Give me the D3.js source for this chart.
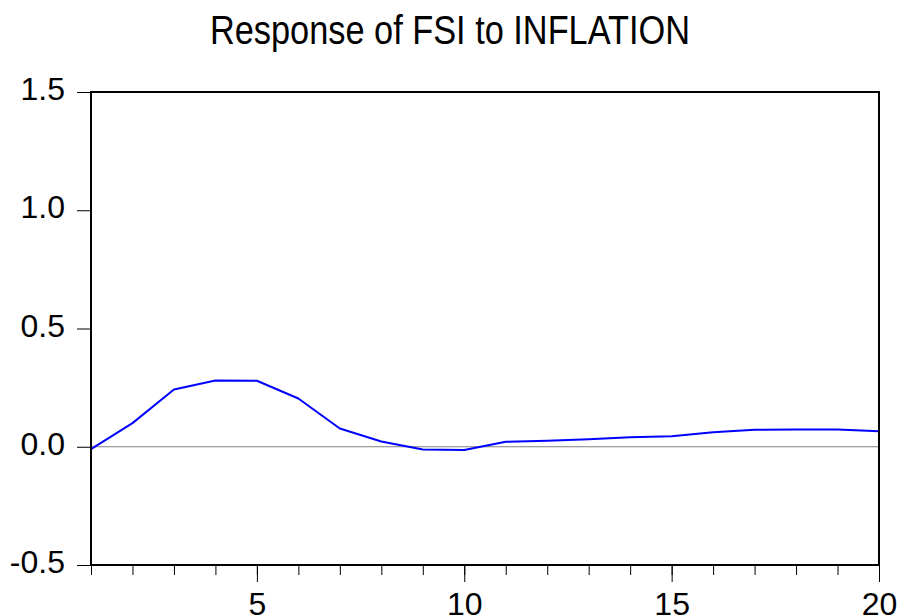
<!DOCTYPE html>
<html>
<head>
<meta charset="utf-8">
<script src="https://cdn.jsdelivr.net/npm/d3@7"></script>
<style>
  body { margin: 0; background: #fff; }
  svg { display: block; font-family: "Liberation Sans", Arial, sans-serif; }
</style>
</head>
<body>
<div id="chart"></div>
<script>
/* DATA */
const periods = d3.range(1, 21);
const responses = [-0.01, 0.10, 0.242, 0.280, 0.279, 0.204, 0.077, 0.022, -0.012, -0.014,
                   0.021, 0.025, 0.032, 0.040, 0.044, 0.061, 0.072, 0.073, 0.073, 0.066];
const yTicks = [-0.5, 0.0, 0.5, 1.0, 1.5];
const xMajorTicks = [5, 10, 15, 20];
const title = "Response of FSI to INFLATION";

/* LAYOUT */
const W = 899, H = 616;
const frame = { left: 91, right: 879, top: 92, bottom: 565 };
const labelSize = 32;

const svg = d3.select("#chart").append("svg").attr("width", W).attr("height", H);

const x = d3.scaleLinear().domain([1, 20]).range([frame.left, frame.right]);
const y = d3.scaleLinear().domain([-0.5, 1.5]).range([frame.bottom, frame.top]);

// title (narrow, tall glyphs like the original)
svg.append("text")
  .attr("x", 450)
  .attr("y", 44)
  .attr("text-anchor", "middle")
  .attr("font-size", 40)
  .attr("textLength", 480)
  .attr("lengthAdjust", "spacingAndGlyphs")
  .text(title);

// y axis (ticks outside on the left)
const yAxis = svg.append("g")
  .attr("transform", `translate(${frame.left - 1},0)`)
  .call(d3.axisLeft(y).tickValues(yTicks).tickSize(13).tickPadding(12));
yAxis.select(".domain").remove();
yAxis.selectAll("line").attr("stroke", "#000").attr("stroke-width", 1);
yAxis.selectAll("text")
  .attr("font-size", labelSize)
  .attr("fill", "#000")
  .attr("font-family", "Liberation Sans, Arial, sans-serif")
  .attr("dy", "0.24em")
  .text((d) => d.toFixed(1));

// x axis: minor ticks on every period, longer major ticks with labels
const xMinor = svg.append("g")
  .attr("transform", `translate(0,${frame.bottom + 1})`)
  .call(d3.axisBottom(x).tickValues(periods).tickSize(9).tickFormat(""));
xMinor.select(".domain").remove();
xMinor.selectAll("line").attr("stroke", "#000");

const xMajor = svg.append("g")
  .attr("transform", `translate(0,${frame.bottom + 1})`)
  .call(d3.axisBottom(x).tickValues(xMajorTicks).tickSize(16).tickPadding(10)
    .tickFormat(d3.format("d")));
xMajor.select(".domain").remove();
xMajor.selectAll("line").attr("stroke", "#000");
xMajor.selectAll("text")
  .attr("font-size", labelSize)
  .attr("fill", "#000")
  .attr("font-family", "Liberation Sans, Arial, sans-serif");

// zero line
svg.append("line")
  .attr("x1", frame.left).attr("x2", frame.right)
  .attr("y1", y(0)).attr("y2", y(0))
  .attr("stroke", "#808080")
  .attr("stroke-width", 1.2);

// response line
const line = d3.line()
  .x((d, i) => x(periods[i]))
  .y((d) => y(d));

svg.append("path")
  .datum(responses)
  .attr("fill", "none")
  .attr("stroke", "#0000ff")
  .attr("stroke-width", 2)
  .attr("stroke-linejoin", "round")
  .attr("d", line);

// frame
svg.append("rect")
  .attr("x", frame.left).attr("y", frame.top)
  .attr("width", frame.right - frame.left)
  .attr("height", frame.bottom - frame.top)
  .attr("fill", "none")
  .attr("stroke", "#000")
  .attr("stroke-width", 2);
</script>
</body>
</html>
